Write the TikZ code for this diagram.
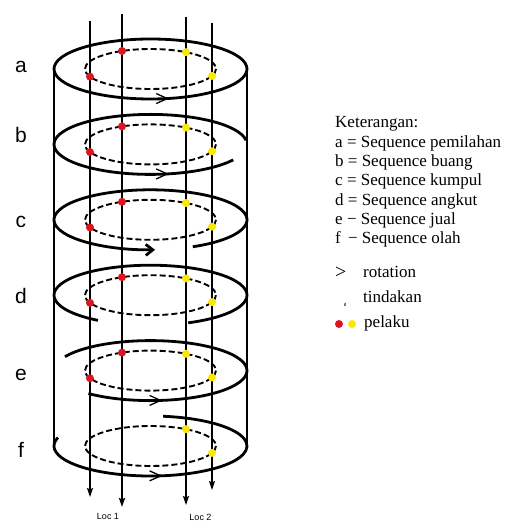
\documentclass[tikz,border=0pt]{standalone}
\usepackage{fontspec}
\setmainfont{Liberation Serif}
\newfontfamily\labelfont{Liberation Sans}
\usetikzlibrary{arrows.meta,calc}
\definecolor{actorred}{RGB}{222,20,30}
\definecolor{actoryellow}{RGB}{250,232,0}
\tikzset{
  outer/.style={line width=2.8pt},
  inner/.style={line width=1.9pt, dash pattern=on 6pt off 3pt},
  side/.style={line width=1.1pt},
  flow/.style={line width=1.1pt, -{Stealth[length=9pt,width=6pt,inset=1.5pt]}},
  flowmain/.style={flow, line width=2pt},
  chev/.style={line width=1.3pt},
  lvl/.style={font=\labelfont\fontsize{21}{21}\selectfont, anchor=base, inner sep=0pt},
  legend/.style={font=\fontsize{17}{19}\selectfont, anchor=base west, inner sep=0pt},
  loc/.style={font=\labelfont\fontsize{9}{9}\selectfont, anchor=base, inner sep=0pt},
  chevron/.pic={\draw[chev] (-11,-5) -- (0,0) -- (-11,5);},
}
\begin{document}
\begin{tikzpicture}[x=1pt,y=-1pt]
\useasboundingbox (0,0) rectangle (515,521);

% centres of the six levels
\coordinate (A) at (150.5,69);
\coordinate (B) at (150.5,144.4);
\coordinate (C) at (150.5,219.8);
\coordinate (D) at (150.5,295.2);
\coordinate (E) at (150.5,370.6);
\coordinate (F) at (150.5,446);

% cylinder sides
\draw[side] ($(A)+(180:96.5 and 30)$) -- ($(F)+(180:96.5 and 30)$);
\draw[side] ($(A)+(0:96.5 and 30)$) -- ($(F)+(0:96.5 and 30)$);

% flows through the levels
\coordinate (p1t) at (90,21);  \coordinate (p1b) at (90,497);
\coordinate (p2t) at (122,14); \coordinate (p2b) at (122,507);
\coordinate (p3t) at (186,17); \coordinate (p3b) at (186,505);
\coordinate (p4t) at (212,23); \coordinate (p4b) at (212,490);
\draw[flow] (p1t) -- (p1b);
\draw[flowmain] (p2t) -- (p2b);
\draw[flow] (p3t) -- (p3b);
\draw[flow] (p4t) -- (p4b);

% inner dashed rings
\foreach \c in {A,B,C,D,E,F}
  \draw[inner] (\c) ellipse [x radius=65.5, y radius=20];

% outer spiral, level by level
\draw[outer] (A) ellipse [x radius=96.5, y radius=30];
\draw[outer] ($(B)+(352:96.5 and 30)$) arc[start angle=352, end angle=31, x radius=96.5, y radius=30];
\draw[outer, -{Straight Barb[length=7pt,width=11pt]}] ($(C)+(64:96.5 and 30)$) arc[start angle=64, end angle=-272.7, x radius=96.5, y radius=30];
\draw[outer] ($(D)+(67:96.5 and 30)$) arc[start angle=67, end angle=-237, x radius=96.5, y radius=30];
\draw[outer] ($(E)+(490:96.5 and 30)$) arc[start angle=490, end angle=207.6, x radius=96.5, y radius=30];
\draw[outer] ($(F)+(196.5:96.5 and 30)$) arc[start angle=196.5, end angle=-82.5, x radius=96.5, y radius=30];

% rotation marks
\pic at ($(A)+(80:96.5 and 30)$) {chevron};
\pic at ($(B)+(80:96.5 and 30)$) {chevron};
\pic at ($(E)+(84:96.5 and 30)$) {chevron};
\pic at ($(F)+(84:96.5 and 30)$) {chevron};

% actors on the rings
\foreach \c in {A,B,C,D,E}{
  \fill[actorred] ($(\c)+(244.2:65.5 and 20)$) circle (4);
  \fill[actorred] ($(\c)+(157.5:65.5 and 20)$) circle (4);
}
\foreach \c in {A,B,C,D,E,F}{
  \fill[actoryellow] ($(\c)+(302.8:65.5 and 20)$) circle (4);
  \fill[actoryellow] ($(\c)+(20.1:65.5 and 20)$) circle (4);
}

% level letters
\node[lvl] (la) at (21,73) {a};
\node[lvl] (lb) at (21,143) {b};
\node[lvl] (lc) at (21,227) {c};
\node[lvl] (ld) at (21,303) {d};
\node[lvl] (le) at (21,380) {e};
\node[lvl] (lf) at (21,457) {f};

% location labels
\node[loc] (loc1) at (108,519.5) {Loc 1};
\node[loc] (loc2) at (200.5,520.5) {Loc 2};

% legend
\node[legend] (k0) at (335,128) {Keterangan:};
\node[legend] (k1) at (335,147.3) {a = Sequence pemilahan};
\node[legend] (k2) at (335,166.6) {b = Sequence buang};
\node[legend] (k3) at (335,185.9) {c = Sequence kumpul};
\node[legend] (k4) at (335,205.2) {d = Sequence angkut};
\node[legend] (k5) at (335,224.5) {e − Sequence jual};
\node[legend] (k6) at (335,243.8) {f\kern3pt{} − Sequence olah};
\node[legend, font=\fontsize{20}{20}\selectfont] (krs) at (335,278) {>};
\node[legend] (kr) at (363,277) {rotation};
\draw[line width=1pt] (345.2,303) -- (344.8,306);
\node[legend] (kt) at (363,302) {tindakan};
\fill[actorred] (339,324) circle (4);
\fill[actoryellow] (352,324) circle (4);
\node[legend] (kp) at (364,327) {pelaku};
\end{tikzpicture}
\end{document}
